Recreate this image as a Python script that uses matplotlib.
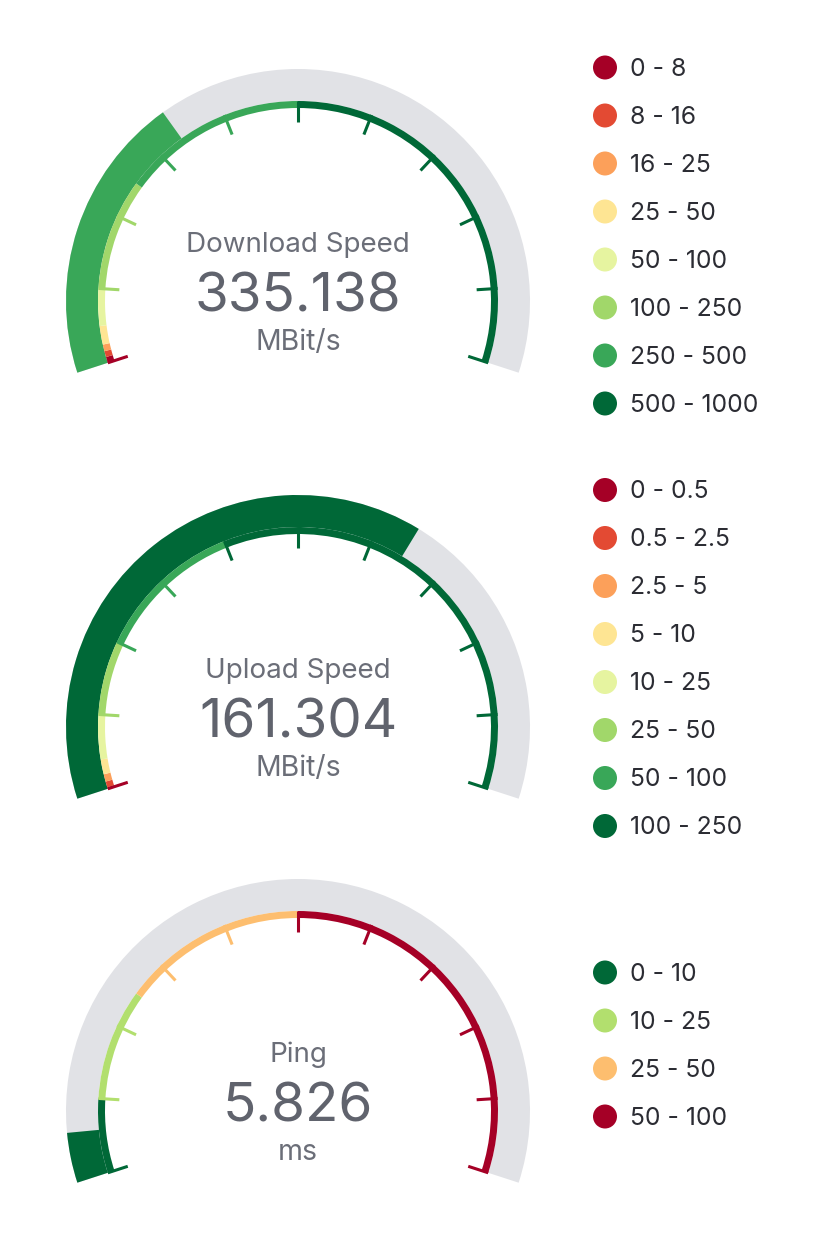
import numpy as np
import matplotlib
matplotlib.use('Agg')
import matplotlib.pyplot as plt
from matplotlib.patches import Wedge, Circle

plt.rcParams['font.family'] = ['Inter', 'DejaVu Sans']

# Gauge data
download_title = 'Download Speed'
download_value = 335.138
download_unit = 'MBit/s'
download_thresholds = [0, 8, 16, 25, 50, 100, 250, 500, 1000]
download_colors = ['#a50026', '#e34a33', '#fca05a', '#fee593',
                   '#e6f4a0', '#a1d76a', '#39a758', '#006837']

upload_title = 'Upload Speed'
upload_value = 161.304
upload_unit = 'MBit/s'
upload_thresholds = [0, 0.5, 2.5, 5, 10, 25, 50, 100, 250]
upload_colors = ['#a50026', '#e34a33', '#fca05a', '#fee593',
                 '#e6f4a0', '#a1d76a', '#39a758', '#006837']

ping_title = 'Ping'
ping_value = 5.826
ping_unit = 'ms'
ping_thresholds = [0, 10, 25, 50, 100]
ping_colors = ['#006837', '#b2df6e', '#fdbe6f', '#a50026']

W, H = 825, 1252
fig = plt.figure(figsize=(W / 100, H / 100), dpi=100)
ax = fig.add_axes([0, 0, 1, 1])
ax.set_xlim(0, W)
ax.set_ylim(0, H)
ax.axis('off')

TRACK = '#e1e2e6'
START, SPAN = 198.0, 216.0
R_OUT, BAND = 232, 32
R_TH, TH_W = 200, 7
TICK_IN = 179


def color_for(v, th, cols):
    for i in range(len(cols)):
        if v < th[i + 1]:
            return cols[i]
    return cols[-1]


def gauge(cy_img, title, value, unit, th, cols, legend_top):
    cx, cy = 298, H - cy_img
    vmin, vmax = th[0], th[-1]
    ang = lambda v: START - SPAN * (v - vmin) / (vmax - vmin)

    # background track and value arc
    ax.add_patch(Wedge((cx, cy), R_OUT, START - SPAN, START, width=BAND,
                       facecolor=TRACK, edgecolor='none'))
    ax.add_patch(Wedge((cx, cy), R_OUT, ang(value), START, width=BAND,
                       facecolor=color_for(value, th, cols), edgecolor='none'))

    # threshold band
    for i, c in enumerate(cols):
        ax.add_patch(Wedge((cx, cy), R_TH, ang(th[i + 1]), ang(th[i]),
                           width=TH_W, facecolor=c, edgecolor='none'))

    # ticks
    for k in range(11):
        v = vmin + (vmax - vmin) * k / 10
        a = np.radians(ang(v))
        ax.plot([cx + TICK_IN * np.cos(a), cx + R_TH * np.cos(a)],
                [cy + TICK_IN * np.sin(a), cy + R_TH * np.sin(a)],
                color=color_for(v, th, cols), lw=2.2, solid_capstyle='butt')

    # texts
    ax.text(cx, cy + 49, title, ha='center', va='baseline',
            fontsize=20, color='#6b6e78')
    ax.text(cx, cy - 11, f'{value:g}', ha='center', va='baseline',
            fontsize=39.5, color='#60636d')
    ax.text(cx, cy - 49, unit, ha='center', va='baseline',
            fontsize=20.5, color='#6b6e78')

    # legend
    for i, c in enumerate(cols):
        y = H - (legend_top + 48 * i)
        ax.add_patch(Circle((605, y), 12, facecolor=c, edgecolor='none'))
        ax.text(630, y - 8.5, f'{th[i]:g} - {th[i + 1]:g}', ha='left',
                va='baseline', fontsize=17.8, color='#2b2c33')


gauge(301, download_title, download_value, download_unit,
      download_thresholds, download_colors, 67.5)
gauge(727, upload_title, upload_value, upload_unit,
      upload_thresholds, upload_colors, 490)
gauge(1111, ping_title, ping_value, ping_unit,
      ping_thresholds, ping_colors, 972.5)

fig.savefig('out.png', dpi=100, facecolor='white')
